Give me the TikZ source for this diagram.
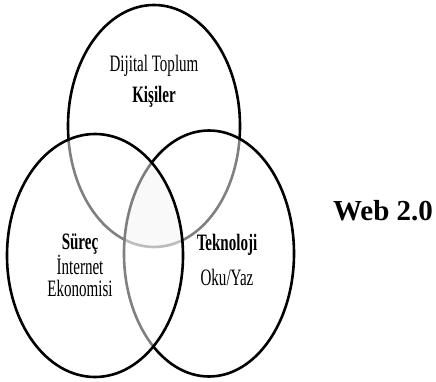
\documentclass[tikz,border=0pt]{standalone}
\usepackage{fontspec}
\setmainfont{Liberation Serif}
\newfontfamily\narrowserif[FakeStretch=0.64]{Liberation Serif}
\usetikzlibrary{positioning}
\tikzset{ring/.style={line width=2.6pt},
  veil/.style={ring, fill=white, fill opacity=0.5},
  lbl/.style={inner sep=0pt, font=\narrowserif\fontsize{23.5}{22}\selectfont, align=center},
  blbl/.style={lbl, font=\narrowserif\bfseries\fontsize{23.5}{22}\selectfont}}

\begin{document}
\begin{tikzpicture}[x=1pt, y=-1pt]
            \useasboundingbox (0,0) rectangle (436,382);
            % three rings: top, right, left
            \draw[ring] (154,126) ellipse [x radius=86, y radius=121];
            \draw[veil] (209,253.5) ellipse [x radius=85, y radius=123];
            \draw[veil] (95,255.5) ellipse [x radius=88, y radius=121.5];
            % light tint where all three meet
            \begin{scope}
              \clip (154,126) ellipse [x radius=86, y radius=121];
              \clip (209,253.5) ellipse [x radius=85, y radius=123];
              \fill[black, fill opacity=0.025] (95,255.5) ellipse [x radius=88, y radius=121.5];
            \end{scope}

            \node[lbl] (toplum) at (154,66) {Dijital Toplum};
            \node[blbl] (kisiler) at (154,97) {Kişiler};
            \node[lbl] (surec) at (80,265) {\textbf{Süreç}\\İnternet\\Ekonomisi};
            \node[blbl] (teknoloji) at (227,245) {Teknoloji};
            \node[lbl] (okuyaz) at (227,277) {Oku/Yaz};
            \node[inner sep=0pt, font=\bfseries\fontsize{29}{31}\selectfont] (web) at (383,211) {Web 2.0};
            \end{tikzpicture}
\end{document}
